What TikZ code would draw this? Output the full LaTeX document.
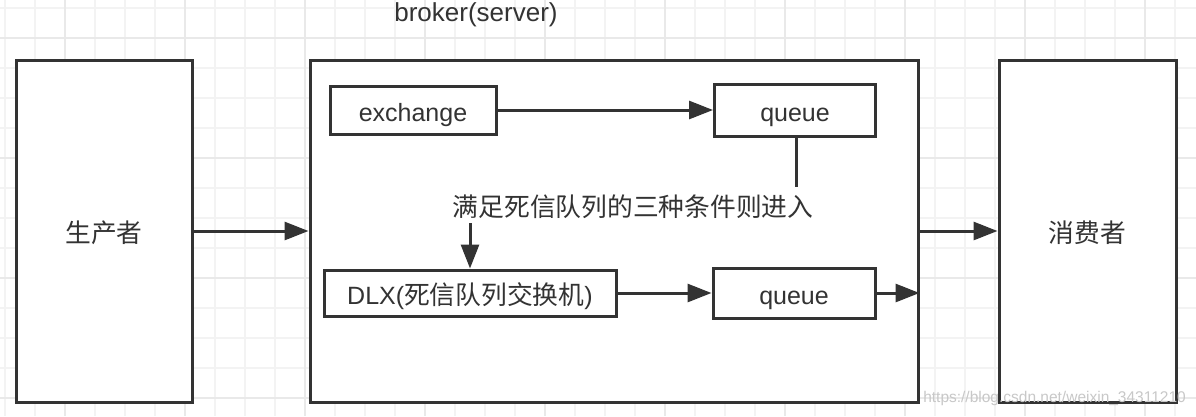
\documentclass[tikz,border=0pt]{standalone}
\usepackage{fontspec}
\setmainfont{Liberation Sans}
\newfontfamily\cjk[Scale=1.03]{Noto Sans CJK SC}
\usetikzlibrary{arrows.meta}
\definecolor{ink}{HTML}{333333}
\definecolor{gridminor}{HTML}{F3F3F3}
\definecolor{gridmajor}{HTML}{E9E9E9}
\definecolor{wm}{HTML}{C8C8C8}
\begin{document}
\begin{tikzpicture}[x=1pt,y=-1pt,
  box/.style={draw=ink, line width=3pt, fill=white, inner sep=0pt, text=ink,
    text height=25pt, text depth=1.6pt,
    font=\fontsize{25}{30}\selectfont},
  conn/.style={draw=ink, line width=3pt, -{Triangle[length=24pt,width=18pt]}},
  plain/.style={draw=ink, line width=3pt},
  lbl/.style={text=ink, inner sep=0pt, font=\fontsize{25}{30}\selectfont}]
% background and grid
\fill[white] (0,0) rectangle (1196,416);
\useasboundingbox (0,0) rectangle (1196,416);
\foreach \k in {0,...,39} {\draw[gridminor, line width=1.5pt] (5+30*\k,0) -- (5+30*\k,416);}
\foreach \k in {0,...,13} {\draw[gridminor, line width=1.5pt] (0,8+30*\k) -- (1196,8+30*\k);}
\foreach \k in {0,...,9} {\draw[gridmajor, line width=1.5pt] (65+120*\k,0) -- (65+120*\k,416);}
\foreach \k in {0,...,3} {\draw[gridmajor, line width=1.5pt] (0,38+120*\k) -- (1196,38+120*\k);}
% main boxes
\node[box, minimum width=176pt, minimum height=342pt] (prod) at (104,231) {\cjk 生产者};
\node[box, minimum width=608pt, minimum height=342pt] (broker) at (614,231) {};
\node[box, minimum width=177pt, minimum height=342pt] (cons) at (1087.5,231) {\cjk 消费者};
\node[lbl, font=\fontsize{26}{30}\selectfont] (blabel) at (476,15) {broker(server)};
% inner boxes
\node[box, minimum width=166pt, minimum height=48pt] (exch) at (413,110) {exchange};
\node[box, minimum width=161pt, minimum height=52pt] (q1) at (795,110) {queue};
\node[box, minimum width=292pt, minimum height=46pt] (dlx) at (470,293) {DLX({\cjk 死信队列交换机})};
\node[box, minimum width=162pt, minimum height=50pt] (q2) at (794,293) {queue};
\node[lbl] (cond) at (633,207) {\cjk 满足死信队列的三种条件则进入};
\coordinate (q1end) at (796,187);
\coordinate (dstart) at (470,223);
% connectors
\draw[conn] (prod) -- (broker);
\draw[conn] (broker) -- (cons);
\draw[conn] (exch) -- (q1);
\draw[plain] (q1.south -| q1end) -- (q1end);
\draw[conn] (dstart) -- (dlx.north);
\draw[conn] (dlx) -- (q2);
\draw[conn] (q2.east) -- (q2.east -| broker.east);
% watermark
\node[text=wm, inner sep=0pt, font=\fontsize{15.5}{18}\selectfont, anchor=east] (wmark) at (1186,398) {https://blog.csdn.net/weixin\_34311210};
\end{tikzpicture}
\end{document}
